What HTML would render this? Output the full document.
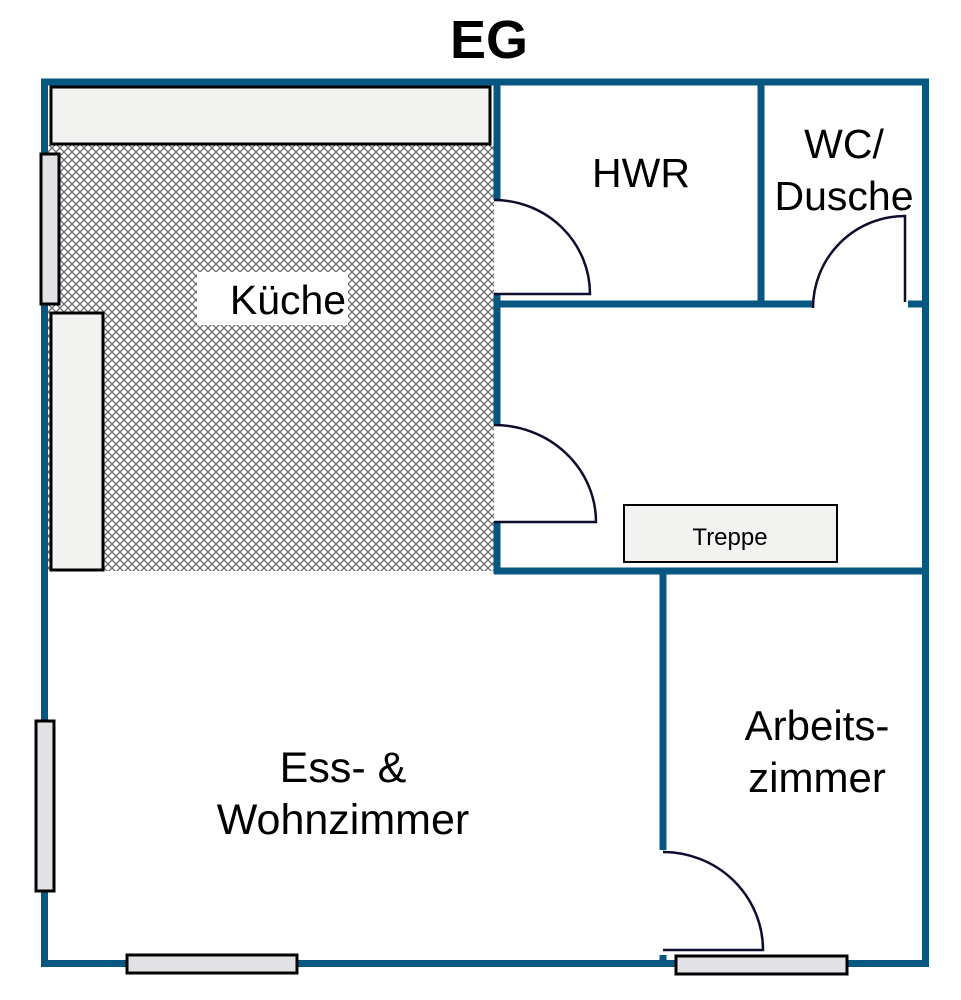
<!DOCTYPE html>
<html><head><style>
html,body{margin:0;padding:0;background:#fff;width:961px;height:1000px;overflow:hidden}
text{font-family:"Liberation Sans",sans-serif;fill:#000}
</style></head><body>
<svg width="961" height="1000" viewBox="0 0 961 1000" xmlns="http://www.w3.org/2000/svg">
<defs>
<pattern id="h" width="8" height="8" patternUnits="userSpaceOnUse">
<rect width="8" height="8" fill="#fff"/>
<path d="M0 0L8 8M8 0L0 8" stroke="#6a6a6a" stroke-width="1.3"/>
</pattern>
</defs>
<text x="489" y="58" font-size="54" font-weight="bold" text-anchor="middle">EG</text>
<rect x="48" y="145" width="447" height="426" fill="url(#h)"/>
<g stroke="#065782" stroke-width="7" fill="none">
<rect x="44.5" y="82" width="881" height="881.5"/>
<line x1="497" y1="82" x2="497" y2="200"/>
<line x1="497" y1="295" x2="497" y2="425"/>
<line x1="497" y1="522" x2="497" y2="574"/>
<line x1="494" y1="304" x2="813" y2="304"/>
<line x1="908" y1="304" x2="925" y2="304"/>
<line x1="761" y1="82" x2="761" y2="304"/>
<line x1="494" y1="571" x2="925" y2="571"/>
<line x1="663" y1="571" x2="663" y2="850"/>
<line x1="663" y1="955" x2="663" y2="963"/>
</g>
<g fill="#fff">
<rect x="494" y="200" width="7" height="95"/>
<rect x="494" y="425" width="7" height="97"/>
</g>
<g stroke="#0d0d2e" stroke-width="2.5" fill="none">
<path d="M494 200 A96 94 0 0 1 590 294 L494 294"/>
<path d="M494 425 A102 97 0 0 1 596 522 L494 522"/>
<path d="M813 308 A92 92 0 0 1 905 216 L905 302"/>
<path d="M663 852 A100 98 0 0 1 763 950 L663 950"/>
</g>
<g stroke="#000" stroke-width="3">
<rect x="51" y="87" width="439" height="57" fill="#f2f2f0"/>
<rect x="41" y="154" width="18" height="150" fill="#e2e2e6"/>
<rect x="51" y="313" width="52" height="257" fill="#f2f2f0"/>
<rect x="36" y="721" width="18" height="170" fill="#e2e2e6"/>
<rect x="127" y="955" width="170" height="18" fill="#e2e2e6"/>
<rect x="676" y="956" width="171" height="18" fill="#e2e2e6"/>
<rect x="624" y="505" width="213" height="57" fill="#f2f2f0" stroke-width="2"/>
</g>
<rect x="197" y="272" width="151" height="53" fill="#fff"/>
<text x="288" y="314" font-size="41" text-anchor="middle">Küche</text>
<text x="641" y="187" font-size="41" text-anchor="middle">HWR</text>
<text x="844" y="158" font-size="41" text-anchor="middle">WC/</text>
<text x="844" y="210" font-size="41" text-anchor="middle">Dusche</text>
<text x="730" y="545" font-size="24" text-anchor="middle">Treppe</text>
<text x="817" y="740" font-size="42" text-anchor="middle">Arbeits-</text>
<text x="817" y="792" font-size="42" text-anchor="middle">zimmer</text>
<text x="343" y="782" font-size="43" text-anchor="middle">Ess- &amp;</text>
<text x="343" y="834" font-size="43" text-anchor="middle">Wohnzimmer</text>
</svg>
</body></html>
